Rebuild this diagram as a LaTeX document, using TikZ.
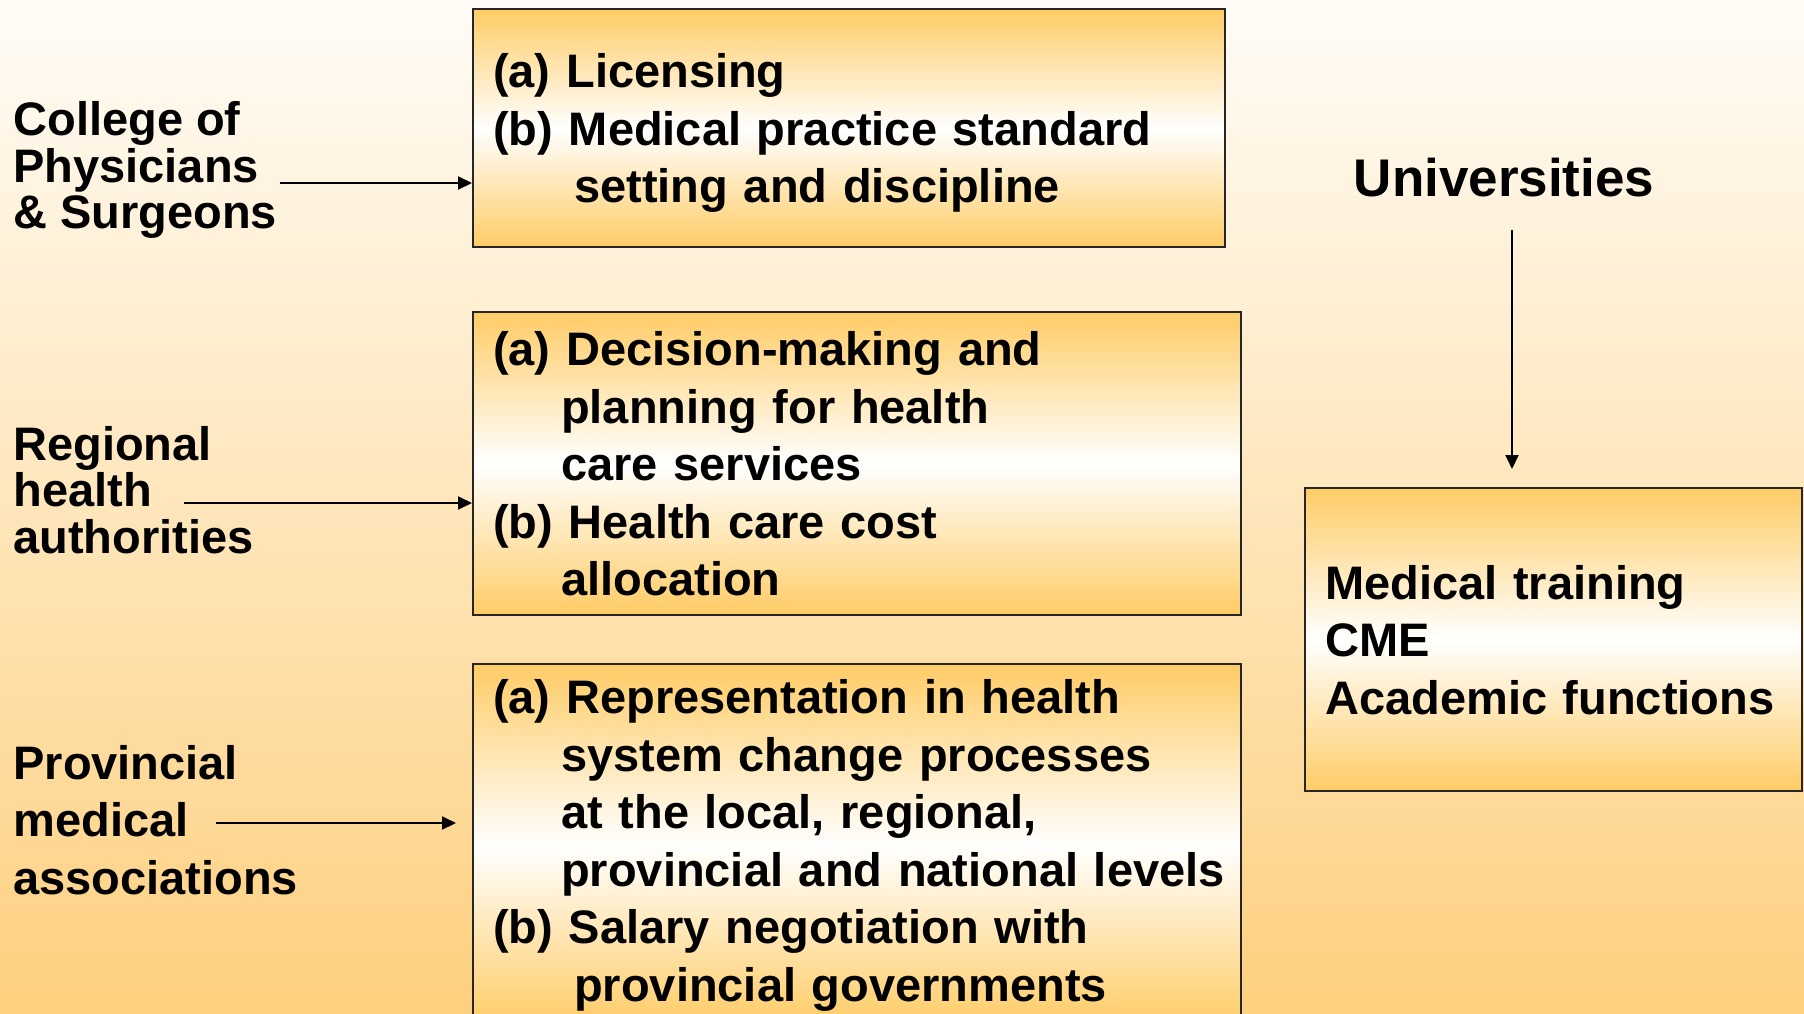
\documentclass[tikz,border=0pt]{standalone}
\usepackage{fontspec}
\setmainfont{Liberation Sans}
\usepackage{xcolor}
\usetikzlibrary{arrows.meta}
\definecolor{bgtop}{HTML}{FFFCF7}
\definecolor{bgbottom}{HTML}{FED07F}
\definecolor{boxorange}{HTML}{FFCC66}

\begin{document}
\begin{tikzpicture}[x=0.5pt, y=-0.5pt,
    every node/.style = {font=\bfseries\fontsize{23.5pt}{28.75pt}\selectfont},
    dutybox/.style = {draw=black!85, line width=1.2pt, anchor=north west,
      align=left, inner xsep=10pt, inner ysep=0pt,
      top color=boxorange, bottom color=boxorange, middle color=white},
    agency/.style = {anchor=west, align=left, inner sep=0pt},
    tight/.style = {font=\bfseries\fontsize{23.5pt}{23.25pt}\selectfont},
    arr/.style = {-{Triangle[length=7pt,width=6.5pt]}, line width=1pt}]
    \useasboundingbox (0,0) rectangle (1804,1013);
    \shade[top color=bgtop, bottom color=bgbottom] (0,0) rectangle (1804,1013);

    % bodies on the left
    \node[agency, tight] (college) at (13,170) {College of\\Physicians\\\& Surgeons};
    \node[agency, tight] (regional) at (13,490) {Regional\\health\\authorities};
    \node[agency] (provincial) at (13,820) {Provincial\\medical\\associations};
    \node[inner sep=0pt, font=\bfseries\fontsize{26.5pt}{32pt}\selectfont] (univ) at (1504,178) {Universities};

    % their duties
    \node[dutybox, text width=356pt, minimum height=119pt] (lic) at (472,8)
      {\rule{0pt}{22pt}(a) Licensing\\(b) Medical practice standard\\\hspace*{40.5pt}setting and discipline};
    \node[dutybox, text width=364pt, minimum height=151.5pt] (plan) at (472,311)
      {(a) Decision-making and\\\hspace*{34pt}planning for health\\\hspace*{34pt}care services\\
       (b) Health care cost\\\hspace*{34pt}allocation};
    \node[dutybox, text width=364pt, minimum height=181pt] (rep) at (472,663)
      {(a) Representation in health\\\hspace*{34pt}system change processes\\
       \hspace*{34pt}at the local, regional,\\\hspace*{34pt}\mbox{provincial and national levels}\\
       (b) Salary negotiation with\\\hspace*{40.5pt}provincial governments};
    \node[dutybox, text width=228.5pt, minimum height=151.5pt] (acad) at (1304,487)
      {Medical training\\CME\\Academic functions};

    % arrows
    \coordinate (tA) at (280,183);
    \coordinate (tB) at (184,503);
    \coordinate (tC) at (216,823);
    \coordinate (tD) at (1512,230);
    \path (tC -| rep.west) ++(-8pt,0) coordinate (hC);
    \path (tD |- acad.north) ++(0,9pt) coordinate (hD);
    \draw[arr] (tA) -- (tA -| lic.west);
    \draw[arr] (tB) -- (tB -| plan.west);
    \draw[arr] (tC) -- (hC);
    \draw[arr] (tD) -- (hD);
\end{tikzpicture}
\end{document}
